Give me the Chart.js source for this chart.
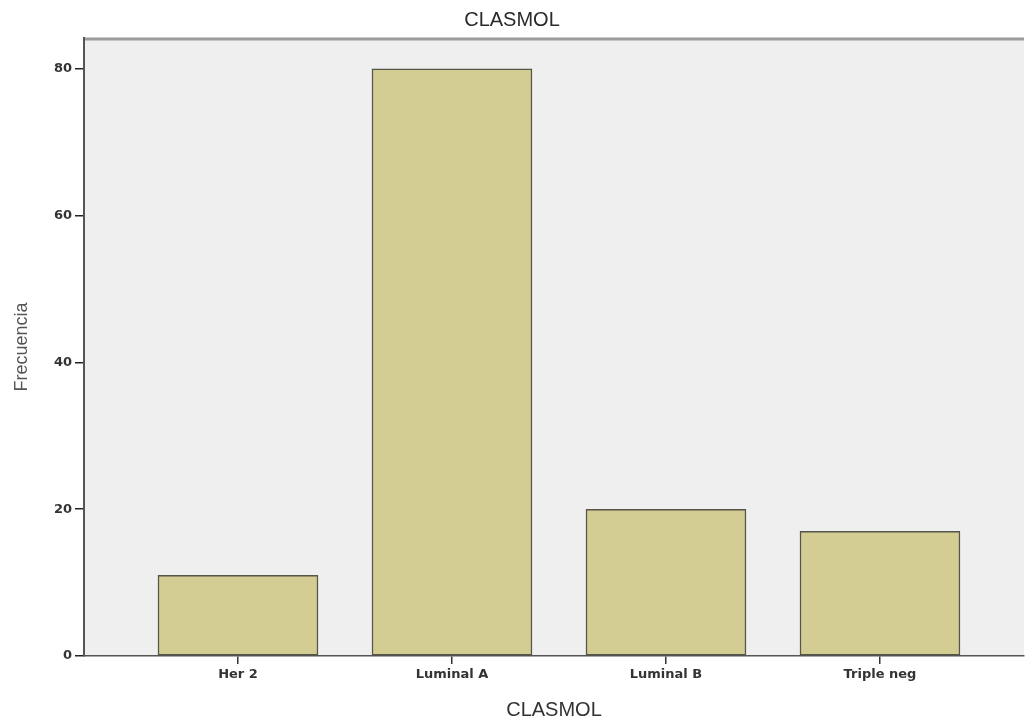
<!DOCTYPE html>
<html>
<head>
<meta charset="utf-8">
<script src="https://cdn.jsdelivr.net/npm/chart.js@4/dist/chart.umd.min.js"></script>
<style>
  body { margin: 0; background: #fff; }
  #wrap { width: 1026px; height: 723px; }
</style>
</head>
<body>
<div id="wrap"><canvas id="chart" width="1026" height="723"></canvas></div>
<script>
const categories = ['Her 2', 'Luminal A', 'Luminal B', 'Triple neg'];
const counts = [11, 80, 20, 17];
const yTicks = [0, 20, 40, 60, 80];

// plot background + grey top border, like the SPSS frame
const frame = {
  id: 'frame',
  beforeDraw(chart) {
    const { ctx, chartArea: a } = chart;
    ctx.save();
    ctx.fillStyle = '#efefef';
    ctx.fillRect(a.left, a.top, a.right - a.left, a.bottom - a.top);
    ctx.strokeStyle = '#9c9c9c';
    ctx.lineWidth = 3;
    ctx.beginPath();
    ctx.moveTo(a.left, a.top + 1);
    ctx.lineTo(a.right, a.top + 1);
    ctx.stroke();
    ctx.restore();
  }
};

new Chart(document.getElementById('chart'), {
  type: 'bar',
  data: {
    datasets: [{
      label: 'Frecuencia',
      data: counts.map((v, i) => ({ x: i, y: v })),
      backgroundColor: '#d3cc93',
      borderColor: '#55554a',
      borderWidth: 1.5,
      borderSkipped: false,
      barThickness: 160
    }]
  },
  options: {
    responsive: false,
    animation: false,
    layout: { padding: { left: 0, right: 2, top: 0, bottom: 0 } },
    plugins: {
      legend: { display: false },
      tooltip: { enabled: false },
      title: {
        display: true,
        text: 'CLASMOL',
        color: '#2a2a2a',
        font: { family: 'Liberation Sans, Arial', size: 20, weight: 'normal' },
        padding: { top: 8, bottom: 6 }
      }
    },
    scales: {
      x: {
        type: 'linear',
        offset: false,
        min: -0.7196,
        max: 3.673,
        afterBuildTicks: s => { s.ticks = categories.map((c, i) => ({ value: i })); },
        afterFit: s => { s.height = 67; },
        border: { color: '#555', width: 1.5 },
        grid: { offset: false, drawOnChartArea: false, drawTicks: true, tickLength: 8, color: '#333', lineWidth: 1.5 },
        ticks: {
          autoSkip: false,
          maxRotation: 0,
          padding: 3,
          color: '#333',
          font: { family: 'DejaVu Sans', size: 13, weight: 'bold' },
          callback: v => categories[v]
        },
        title: {
          display: true,
          text: 'CLASMOL',
          color: '#333',
          font: { family: 'Liberation Sans, Arial', size: 20 },
          padding: { top: 2, bottom: 1 }
        }
      },
      y: {
        min: 0,
        max: 84.2,
        afterBuildTicks: s => { s.ticks = yTicks.map(v => ({ value: v })); },
        afterFit: s => { s.width = 84; },
        border: { color: '#555', width: 2 },
        grid: { drawOnChartArea: false, drawTicks: true, tickLength: 9, color: '#222', lineWidth: 1.5 },
        ticks: {
          padding: 3,
          color: '#333',
          font: { family: 'DejaVu Sans', size: 13, weight: 'bold' }
        },
        title: {
          display: true,
          text: 'Frecuencia',
          color: '#555',
          font: { family: 'Liberation Sans, Arial', size: 18 },
          padding: { top: 11, bottom: 4 }
        }
      }
    }
  },
  plugins: [frame]
});
</script>
</body>
</html>
